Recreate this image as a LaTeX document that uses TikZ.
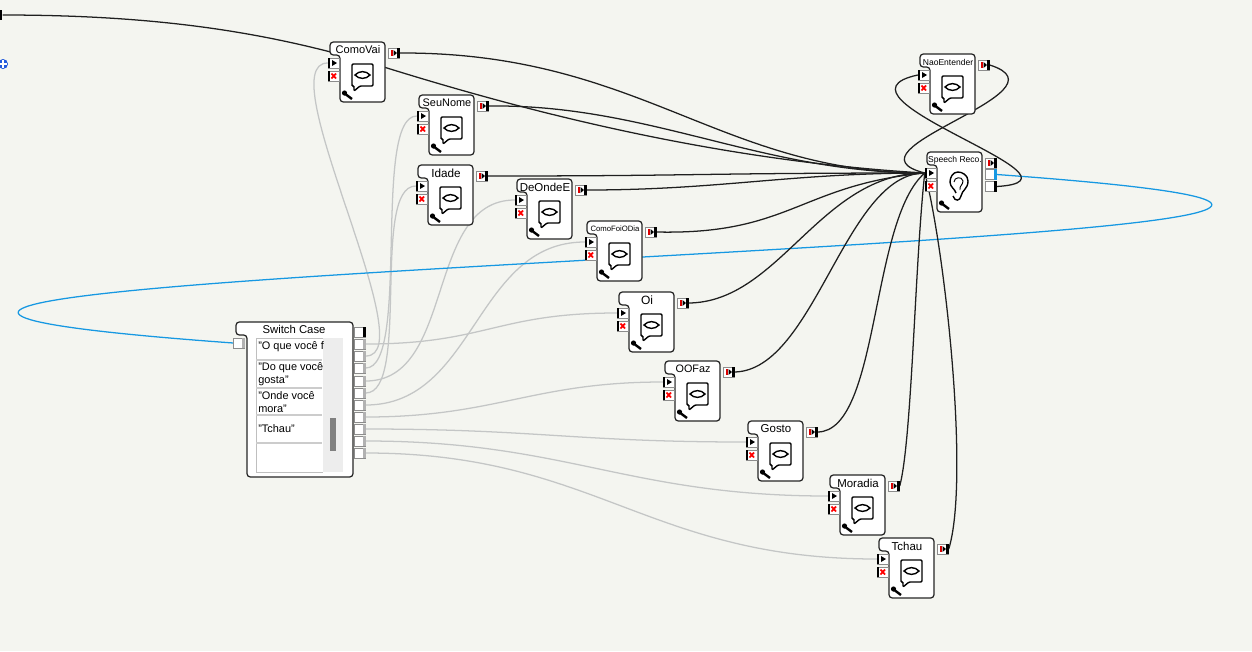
\documentclass[tikz,border=0pt]{standalone}
\usepackage{fontspec}
\setmainfont{Liberation Sans}
\usepackage{xcolor}
\definecolor{paper}{RGB}{244,245,240}
\definecolor{linkblue}{RGB}{22,152,226}
\definecolor{linkgray}{RGB}{196,198,198}
\definecolor{outline}{RGB}{38,38,38}
\definecolor{plusblue}{RGB}{34,90,220}
\pgfdeclarelayer{paperlayer}
\pgfdeclarelayer{wirelayer}
\pgfsetlayers{paperlayer,wirelayer,main}
\tikzset{
  port/.style={draw=black!45,fill=white,line width=0.4pt,inner sep=0pt,minimum width=8.2pt,minimum height=7.4pt},
  label/.style={inner sep=0pt,text=black},
  body/.style={draw=outline,fill=white,line width=0.95pt},
  glyph/.style={draw=black,line width=1.05pt},
  blackwire/.style={draw=black!88,line width=0.95pt},
  graywire/.style={draw=linkgray,line width=0.95pt},
  bluewire/.style={draw=linkblue,line width=0.95pt}
}
\begin{document}
\begin{tikzpicture}[x=0.75pt,y=-0.75pt]
\useasboundingbox (0,0) rectangle (1252,651);
\begin{pgfonlayer}{paperlayer}
\fill[paper] (0,0) rectangle (1252,651);
\end{pgfonlayer}

\newcommand{\blockbody}[3]{
  \draw[body,rounded corners=2.5pt] (10,13) -- (10,60) -- (55,60) -- (55,0) -- (0,0) -- (0,13) -- cycle;
  \node[label,font=\fontsize{#3}{#3}\selectfont] (#1-name) at (28,8) {#2};
  \node[port] (#1-in) at (3.5,21) {};
  \node[port] (#1-stop) at (3.5,34) {};
  \fill[black] (#1-in.north west) rectangle ([xshift=2pt]#1-in.south west);
  \fill[black] (#1-stop.north west) rectangle ([xshift=2pt]#1-stop.south west);
  \fill[black] (2,18) -- (7,21) -- (2,24) -- cycle;
  \draw[red,line width=1.3pt] (1.5,31.5) -- (6,36.5) (1.5,36.5) -- (6,31.5);
  \draw[black,line width=1.8pt] (14,51) -- (22,57);
  \fill[black] (14.5,51) circle (2.6);
}
\newcommand{\bangport}[3]{
  \node[port] (#1) at (#2,#3) {};
  \fill[black] (#1.north east) rectangle ([xshift=-2pt]#1.south east);
  \fill[red!85!black] (#2-3.5,#3-3) rectangle (#2-1.5,#3+3);
  \fill[black] (#2-0.5,#3-3) -- (#2+3,#3) -- (#2-0.5,#3+3) -- cycle;
}
\newcommand{\sayblock}[5]{
  \begin{scope}[shift={(#2,#3)}]
    \blockbody{#1}{#4}{#5}
    \bangport{#1-out}{64}{11}
    \draw[glyph,rounded corners=0.8pt] (22,22) -- (43,22) -- (43,44) -- (30,44) -- (24,49) -- (24,44) -- (22,44) -- cycle;
    \draw[glyph,fill=white] (25,33) .. controls (29,28.5) and (36,28.5) .. (40,33) .. controls (36,37.5) and (29,37.5) .. (25,33) -- cycle;
  \end{scope}
}

%frame input and marker
\node[inner sep=0pt,minimum width=2pt,minimum height=7pt,fill=black] (framein) at (1,15) {};
\node[circle,inner sep=0pt,minimum size=7.5pt,fill=plusblue] (plusmark) at (3,64) {};
\draw[white,line width=1.1pt] (-1,64) -- (7,64) (3,60) -- (3,68);

%blocks
\sayblock{comovai}{330}{42}{ComoVai}{8.3}
\sayblock{seunome}{419}{95}{SeuNome}{8.2}
\sayblock{idade}{418}{165}{Idade}{8.8}
\sayblock{deonde}{517}{179}{DeOndeE}{8.6}
\sayblock{comofoi}{587}{221}{ComoFoiODia}{5.8}
\sayblock{oi}{619}{292}{Oi}{9}
\sayblock{oofaz}{665}{361}{OOFaz}{8.1}
\sayblock{gosto}{748}{421}{Gosto}{8.6}
\sayblock{moradia}{830}{475}{Moradia}{8.6}
\sayblock{tchau}{879}{538}{Tchau}{8.6}
\sayblock{naoent}{920}{54}{NaoEntender}{6.4}

%speech block
\begin{scope}[shift={(927,152)}]
  \blockbody{speech}{Speech Reco.}{6.4}
  \bangport{speech-out}{64}{11}
  \node[port] (speech-heard) at (64,22.5) {};
  \node[port] (speech-miss) at (64,34.5) {};
  \fill[linkblue] (speech-heard.north east) rectangle ([xshift=-2pt]speech-heard.south east);
  \fill[black] (speech-miss.north east) rectangle ([xshift=-2pt]speech-miss.south east);
  \draw[glyph] (26,44) .. controls (28,50) and (33,49) .. (34,44) .. controls (35,38) and (41,37) .. (41,29) .. controls (41,23) and (35,20) .. (31,20) .. controls (26,20) and (23,25) .. (23,30) .. controls (23,35) and (28,37) .. (29,41);
  \draw[glyph,line width=0.7pt] (27,30) .. controls (27,25) and (35,24) .. (36,29) .. controls (36,33) and (32,34) .. (33,38);
\end{scope}

%switch block
\draw[body,rounded corners=2.5pt] (247,335) -- (247,477) -- (353,477) -- (353,322) -- (236,322) -- (236,335) -- cycle;
\node[label,font=\fontsize{8.5}{8.5}\selectfont] (casename) at (294,329) {Switch Case};
\node[port] (casein) at (239,343) {};
\fill[black!30] (casein.north east) rectangle ([xshift=-2pt]casein.south east);
\fill[black!7] (323,338) rectangle (343,472);
\draw[black!25,line width=0.6pt] (322.5,338) -- (256,338) -- (256,472) -- (322.5,472);
\foreach \yy in {360,388,415,443}
  \draw[black!20,line width=0.9pt] (256,\yy) -- (322,\yy);
\fill[black!50] (330,418) rectangle (336,451);
\node[label,anchor=west,font=\fontsize{8.2}{8.2}\selectfont] (caseone) at (258,347) {"O que você f};
\node[label,anchor=west,align=left,font=\fontsize{8.2}{9.6}\selectfont] (casetwo) at (258,374) {"Do que você\\gosta"};
\node[label,anchor=west,align=left,font=\fontsize{8.2}{9.6}\selectfont] (casethree) at (258,402) {"Onde você\\mora"};
\node[label,anchor=west,font=\fontsize{8.2}{8.2}\selectfont] (casefour) at (258,429) {"Tchau"};
\foreach \i/\yy in {1/332,2/344,3/356,4/368,5/381,6/393,7/405,8/417,9/429,10/441,11/453} {
  \node[port] (case\i) at (360,\yy) {};
  \fill[black!30] (case\i.north east) rectangle ([xshift=-2pt]case\i.south east);
}
\fill[black] (case1.north east) rectangle ([xshift=-2pt]case1.south east);

\begin{pgfonlayer}{wirelayer}
%switch outputs
\draw[graywire] (case2.east) .. controls +(120,0) and +(-120,0) .. (oi-in.west);
\draw[graywire] (case3.east) .. controls +(60,0) and +(-60,0) .. (comovai-in.west);
\draw[graywire] (case4.east) .. controls +(45,0) and +(-45,0) .. (seunome-in.west);
\draw[graywire] (case5.east) .. controls +(90,0) and +(-90,0) .. (deonde-in.west);
\draw[graywire] (case6.east) .. controls +(45,0) and +(-45,0) .. (idade-in.west);
\draw[graywire] (case7.east) .. controls +(110,0) and +(-110,0) .. (comofoi-in.west);
\draw[graywire] (case8.east) .. controls +(130,0) and +(-130,0) .. (oofaz-in.west);
\draw[graywire] (case9.east) .. controls +(170,0) and +(-170,0) .. (gosto-in.west);
\draw[graywire] (case10.east) .. controls +(200,0) and +(-200,0) .. (moradia-in.west);
\draw[graywire] (case11.east) .. controls +(230,0) and +(-230,0) .. (tchau-in.west);
%speech loop
\draw[bluewire] (speech-heard.east) .. controls (1972,245) and (-742,272) .. (casein.west);
%block outputs
\coordinate (framebend) at (387,68);
\draw[blackwire] (framein.east) .. controls (170,15) and (280,35) .. (framebend) .. controls (500,103) and (700,160) .. (speech-in.west);
\draw[blackwire] (comovai-out.east) .. controls (640,52) and (720,173) .. (speech-in.west);
\draw[blackwire] (seunome-out.east) .. controls (650,104) and (760,173) .. (speech-in.west);
\draw[blackwire] (idade-out.east) .. controls (700,176) and (700,173) .. (speech-in.west);
\draw[blackwire] (deonde-out.east) .. controls (720,190) and (790,173) .. (speech-in.west);
\draw[blackwire] (comofoi-out.east) .. controls (790,235) and (800,185) .. (speech-in.west);
\draw[blackwire] (oi-out.east) .. controls (780,302) and (820,173) .. (speech-in.west);
\draw[blackwire] (oofaz-out.east) .. controls (815,370) and (845,173) .. (speech-in.west);
\draw[blackwire] (gosto-out.east) .. controls (880,431) and (870,220) .. (speech-in.west);
\draw[blackwire] (moradia-out.east) .. controls (912,440) and (915,260) .. (speech-in.west);
\draw[blackwire] (tchau-out.east) .. controls (970,480) and (945,250) .. (speech-in.west);
\draw[blackwire] (naoent-out.east) .. controls (1075,92) and (835,150) .. (speech-in.west);
\draw[blackwire] (speech-miss.east) .. controls (1105,180) and (815,97) .. (naoent-in.west);
\end{pgfonlayer}
\end{tikzpicture}
\end{document}
